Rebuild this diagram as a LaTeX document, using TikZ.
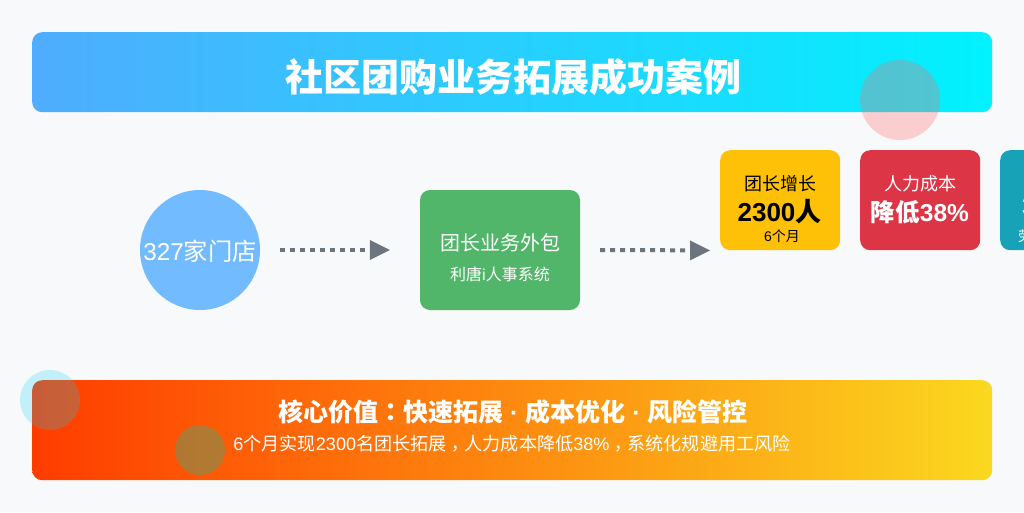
\documentclass[tikz,border=0pt]{standalone}
\usepackage{fontspec}
\setmainfont{Liberation Sans}
\newfontfamily\cjk{Noto Sans CJK SC}
\newfontfamily\cjkp{Noto Sans CJK TC}
\newcommand{\Zh}[1]{{\cjk #1}}
\newcommand{\Cm}{\raisebox{-5.5pt}{\cjkp ，}}
\newcommand{\Fs}[1]{\fontsize{#1}{#1}\selectfont}
\definecolor{pagebg}{HTML}{F8F9FA}
\definecolor{arrowgrey}{HTML}{6C757D}
\definecolor{storeblue}{HTML}{71BBFE}
\definecolor{outgreen}{HTML}{52B66A}
\definecolor{goldcard}{HTML}{FFC107}
\definecolor{redcard}{HTML}{DC3545}
\definecolor{tealcard}{HTML}{17A2B8}
\definecolor{titlel}{HTML}{4FACFE}
\definecolor{titler}{HTML}{00F2FE}
\definecolor{footl}{HTML}{FF3C00}
\definecolor{footr}{HTML}{FBD81F}
\definecolor{decopink}{HTML}{FF6B6B}
\definecolor{decosky}{HTML}{00D2FF}
\definecolor{decogreen}{HTML}{659B5F}
\tikzset{
  txt/.style={inner sep=0pt,anchor=base,text=white},
  card/.style={rounded corners=10pt,inner sep=0pt,minimum width=120pt,minimum height=100pt,anchor=north west},
  dotline/.style={arrowgrey,line width=4pt,dash pattern=on 5pt off 5pt},
  headtip/.style={fill=arrowgrey,draw=none},
  deco/.style={circle,inner sep=0pt,draw=none}
}
\begin{document}
\begin{tikzpicture}[x=1pt,y=-1pt]
\useasboundingbox (0,0) rectangle (1024,512);
\fill[pagebg] (0,0) rectangle (1024,512);
% banners
\node[anchor=north west,inner sep=0pt,minimum width=960pt,minimum height=80pt,rounded corners=10pt,left color=titlel,right color=titler] (title) at (32,32) {};
\node[anchor=north west,inner sep=0pt,minimum width=960pt,minimum height=100pt,rounded corners=10pt,left color=footl,right color=footr] (footer) at (32,380) {};
\node[txt] (titletext) at (513.5,91) {\Fs{38}\bfseries\cjk 社区团购业务拓展成功案例};
% flow
\node[circle,fill=storeblue,inner sep=0pt,minimum size=120pt] (store) at (200,250) {};
\node[txt] (storetext) at (200,260) {\Fs{24.3}327\Zh{家门店}};
\node[rounded corners=10pt,fill=outgreen,inner sep=0pt,minimum width=160pt,minimum height=120pt] (outsource) at (500,250) {};
\node[txt] (outa) at (500,250.5) {\Fs{20}\Zh{团长业务外包}};
\node[txt] (outb) at (500,280.5) {\Fs{16}\Zh{利唐}i\Zh{人事系统}};
\node[card,fill=goldcard] (gold) at (720,150) {};
\node[card,fill=redcard] (red) at (860,150) {};
\node[card,fill=tealcard] (teal) at (1000,150) {};
\node[txt,text=black] (golda) at (780,190) {\Fs{18}\Zh{团长增长}};
\node[txt,text=black] (goldb) at (779.5,221) {\Fs{26}\bfseries 2300\Zh{人}};
\node[txt,text=black] (goldc) at (782,241) {\Fs{14}6\Zh{个月}};
\node[txt] (reda) at (920,190) {\Fs{18}\Zh{人力成本}};
\node[txt] (redb) at (920,221) {\Fs{24.5}\bfseries\Zh{降低}38\%};
\node[txt,anchor=base west] (tealb) at (1022,215) {\Fs{26}\bfseries 3};
\node[txt,anchor=base west] (tealc) at (1018,241) {\Fs{14}\Zh{劳}};
% connectors
\draw[dotline,shorten <=20pt,shorten >=55pt] (store.east) -- (outsource.west);
\coordinate (tipa) at ([xshift=-30pt]outsource.west);
\fill[headtip] (tipa) -- ++(-20,-10) -- ++(0,20) -- cycle;
\draw[dotline,shorten <=20pt,shorten >=35pt] (outsource.east) -- (gold.south west);
\coordinate (tipb) at ([xshift=-10pt]gold.south west);
\fill[headtip] (tipb) -- ++(-20,-10) -- ++(0,20) -- cycle;
% footer text
\node[txt] (foota) at (513,421) {\Fs{25}\bfseries\Zh{核心价值}{\cjkp ：}\Zh{快速拓展} · \Zh{成本优化} · \Zh{风险管控}};
\node[txt] (footb) at (512,450) {\Fs{18.1}6\Zh{个月实现}2300\Zh{名团长拓展}\Cm\Zh{人力成本降低}38\%\Cm\Zh{系统化规避用工风险}};
% decorative circles
\node[deco,fill=decopink,fill opacity=.3,minimum size=80pt] (decoa) at (900,100) {};
\node[deco,fill=decosky,fill opacity=.22,minimum size=60pt] (decob) at (50,400) {};
\node[deco,fill=decogreen,fill opacity=.5,minimum size=50pt] (decoc) at (200,450) {};
\end{tikzpicture}
\end{document}
